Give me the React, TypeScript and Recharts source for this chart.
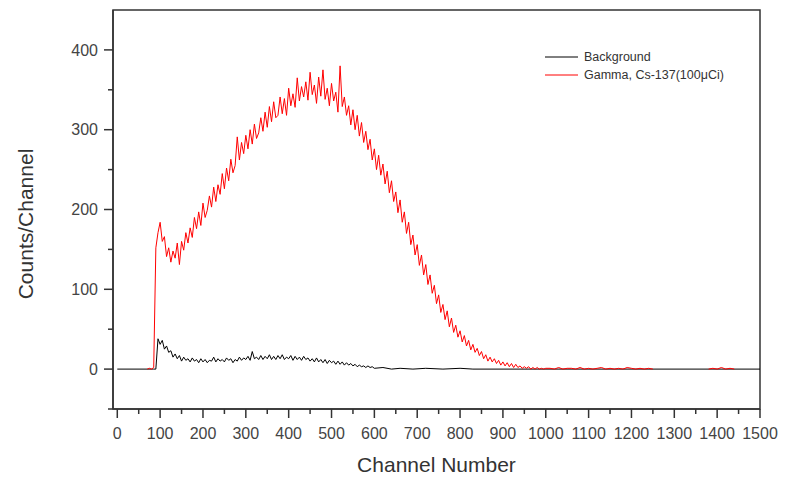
import { LineChart, Line, XAxis, YAxis, ReferenceArea, Label } from 'recharts'

const FONT = '"Liberation Sans", Arial, sans-serif'

// background run: leading point, dense block (every 5 channels from 85), tail
const bgLeadChannels = [0]
const bgLeadCounts = [0]
const bgStart = 85
const bgStep = 5
const bgCounts = [
  0, 0, 38, 31, 36, 25, 29, 21, 23, 15,
  19, 13, 17, 10, 15, 11, 13, 9, 14, 10,
  12, 8, 13, 9, 12, 8, 11, 10, 15, 9,
  13, 10, 12, 9, 14, 11, 13, 8, 12, 10,
  15, 11, 14, 12, 16, 11, 22, 13, 15, 12,
  17, 12, 16, 13, 18, 12, 16, 12, 17, 13,
  18, 12, 15, 13, 17, 11, 16, 12, 15, 11,
  16, 12, 14, 10, 13, 9, 14, 9, 12, 8,
  12, 7, 11, 8, 10, 6, 10, 6, 9, 5,
  8, 5, 7, 4, 6, 3, 5, 3, 4, 2,
  4, 2, 3, 1,
]
const bgTailChannels = [620, 640, 660, 690, 720, 760, 800, 830, 1500]
const bgTailCounts = [2, 0, 1, 0, 1, 0, 1, 0, 0]

// Cs-137 run: dense block (every 5 channels from 70), then two sparse tails
const gammaStart = 70
const gammaStep = 5
const gammaCounts = [
  0, 1, 0, 2,
  152, 171, 184, 160, 166, 141, 152, 134, 148, 139,
  158, 131, 160, 149, 171, 158, 177, 165, 190, 176,
  197, 180, 208, 190, 199, 217, 203, 228, 210, 231,
  219, 245, 226, 252, 236, 263, 246, 255, 291, 262,
  284, 270, 293, 276, 300, 282, 307, 289, 296, 315,
  298, 322, 303, 329, 310, 335, 315, 318, 341, 320,
  339, 318, 352, 330, 345, 328, 365, 336, 354, 341,
  360, 337, 372, 344, 356, 333, 366, 342, 375, 338,
  352, 330, 358, 336, 347, 322, 380, 329, 341, 318,
  330, 306, 325, 300, 318, 292, 309, 284, 298, 275,
  288, 262, 276, 250, 268, 243, 257, 232, 248, 221,
  236, 210, 222, 196, 212, 184, 197, 170, 184, 156,
  168, 143, 156, 130, 143, 118, 131, 106, 118, 95,
  105, 82, 93, 71, 81, 62, 73, 53, 64, 46,
  55, 40, 48, 34, 42, 29, 36, 24, 31, 21,
  26, 17, 22, 13, 18, 10, 15, 9, 13, 7,
  11, 5, 9, 4, 8, 3, 7, 2, 6, 2,
  4, 1, 3, 1, 3, 0, 2, 0, 2, 0,
  1, 0, 1,
]
const gammaTailChannels = [
  1010, 1020, 1030, 1040, 1050, 1060, 1070, 1080, 1090, 1100,
  1110, 1120, 1130, 1140, 1150, 1160, 1170, 1180, 1190, 1200,
  1210, 1220, 1230, 1240, 1250,
]
const gammaTailCounts = [
  1, 0, 2, 0, 1, 1, 0, 2, 0, 1,
  0, 1, 2, 0, 1, 0, 1, 0, 2, 1,
  0, 1, 0, 1, 0,
]
const gammaEndChannels = [1380, 1390, 1400, 1410, 1420, 1430, 1440]
const gammaEndCounts = [0, 1, 0, 2, 0, 1, 0]

const xTicks = Array.from({ length: 31 }, (_, i) => i * 50)
const yTicks = [-50, 0, 50, 100, 150, 200, 250, 300, 350, 400]

const pairs = (chs: number[], vals: number[]) => chs.map((ch, i) => ({ ch, v: vals[i] }))
const block = (start: number, step: number, vals: number[]) =>
  vals.map((v, i) => ({ ch: start + i * step, v }))

const bgData = [
  ...pairs(bgLeadChannels, bgLeadCounts),
  ...block(bgStart, bgStep, bgCounts),
  ...pairs(bgTailChannels, bgTailCounts),
]
const gammaData = [
  ...block(gammaStart, gammaStep, gammaCounts),
  ...pairs(gammaTailChannels, gammaTailCounts),
  { ch: 1315, v: null },
  ...pairs(gammaEndChannels, gammaEndCounts),
]

const XTick = (props: any) => {
  const { x, y, payload } = props
  const major = payload.value % 100 === 0
  return (
    <g>
      <line x1={x} x2={x} y1={y} y2={y + (major ? 9 : 5)} stroke="#333" strokeWidth={1.5} />
      {major && (
        <text x={x} y={y + 30} textAnchor="middle" fontSize={16} fill="#444" fontFamily={FONT}>
          {payload.value}
        </text>
      )}
    </g>
  )
}

const YTick = (props: any) => {
  const { x, y, payload } = props
  const major = payload.value % 100 === 0
  return (
    <g>
      <line x1={x - (major ? 9 : 5)} x2={x} y1={y} y2={y} stroke="#333" strokeWidth={1.5} />
      {major && (
        <text x={x - 15} y={y} dy="0.35em" textAnchor="end" fontSize={16} fill="#444" fontFamily={FONT}>
          {payload.value}
        </text>
      )}
    </g>
  )
}

const legendItems = [
  { name: 'Background', color: '#000000' },
  { name: 'Gamma, Cs-137(100μCi)', color: '#ff0000' },
]

const YTitle = () => (
  <text
    x={25}
    y={224}
    transform="rotate(-90 25 224)"
    textAnchor="middle"
    dominantBaseline="central"
    fontSize={21}
    fill="#333"
    fontFamily={FONT}
  >
    Counts/Channel
  </text>
)

export default function App() {
  return (
    <div style={{ position: 'absolute', left: 0, top: 0, width: 785, height: 480, background: '#fff' }}>
      <LineChart width={785} height={480} margin={{ top: 10, right: 25, bottom: 0, left: 0 }}>
        <XAxis
          dataKey="ch"
          type="number"
          domain={[-10, 1500]}
          ticks={xTicks}
          interval={0}
          tick={<XTick />}
          tickLine={false}
          tickSize={0}
          tickMargin={0}
          height={71}
          axisLine={{ stroke: '#333', strokeWidth: 1.5 }}
          allowDataOverflow
        >
          <Label value="Channel Number" position="insideBottom" offset={8} fontSize={21} fill="#333" fontFamily={FONT} />
        </XAxis>
        <YAxis
          type="number"
          domain={[-50, 450]}
          ticks={yTicks}
          interval={0}
          tick={<YTick />}
          tickLine={false}
          tickSize={0}
          tickMargin={0}
          width={113}
          axisLine={{ stroke: '#333', strokeWidth: 1.5 }}
          allowDataOverflow
        >
          <Label content={<YTitle />} />
        </YAxis>
        <ReferenceArea x1={-10} x2={1500} y1={-50} y2={450} fill="none" stroke="#333" strokeWidth={1.5} />
        <Line
          data={bgData}
          dataKey="v"
          name="Background"
          stroke="#000000"
          strokeWidth={1}
          dot={false}
          isAnimationActive={false}
        />
        <Line
          data={gammaData}
          dataKey="v"
          name="Gamma, Cs-137(100μCi)"
          stroke="#ff0000"
          strokeWidth={1}
          dot={false}
          connectNulls={false}
          isAnimationActive={false}
        />
      </LineChart>
      <div style={{ position: 'absolute', left: 545, top: 48, fontFamily: FONT, fontSize: 12.5, color: '#333' }}>
        {legendItems.map((it) => (
          <div key={it.name} style={{ display: 'flex', alignItems: 'center', height: 18 }}>
            <svg width={39} height={10}>
              <line x1={0} x2={33} y1={5} y2={5} stroke={it.color} strokeWidth={1} />
            </svg>
            <span>{it.name}</span>
          </div>
        ))}
      </div>
    </div>
  )
}
